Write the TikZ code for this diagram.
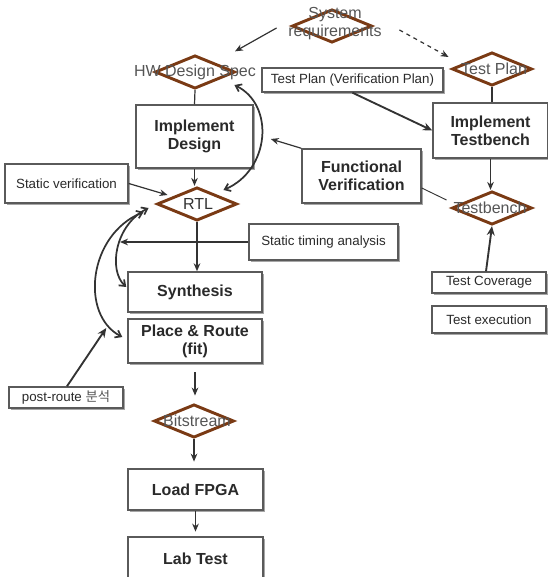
\documentclass[tikz,border=0pt]{standalone}
\usepackage{fontspec}
\setmainfont{Liberation Sans}
\newfontfamily\krfont{Noto Sans CJK KR}
\usetikzlibrary{shapes.geometric,arrows.meta,shadows,calc}
\definecolor{brownline}{HTML}{7A3A14}
\definecolor{boxline}{HTML}{5A5A5A}
\definecolor{txt}{HTML}{2A2A2A}
\definecolor{dtxt}{HTML}{555555}
\definecolor{ln}{HTML}{333333}
\tikzset{
  box/.style={draw=boxline, line width=1.1pt, fill=white,
    drop shadow={shadow xshift=1.5pt, shadow yshift=-1.5pt, opacity=0.35, fill=black},
    inner sep=0pt, align=center, text=txt},
  bbox/.style={box, font=\bfseries\fontsize{12}{13.5}\selectfont},
  sbox/.style={box, font=\fontsize{10}{12}\selectfont},
  dia/.style={diamond, draw=brownline, line width=2.2pt, minimum width=60pt,
    minimum height=25pt, inner sep=0pt},
  dtext/.style={text=dtxt, font=\fontsize{12}{13.5}\selectfont, inner sep=0pt, align=center},
  arr/.style={draw=ln, line width=0.9pt, -{Stealth[length=6pt,width=5pt]}},
  tarr/.style={draw=ln, line width=1.4pt, -{Stealth[length=7pt,width=6pt]}},
  carr/.style={draw=ln, line width=1.3pt, {Straight Barb[length=4pt,width=6pt]}-{Straight Barb[length=4pt,width=6pt]}},
  plain/.style={draw=ln, line width=0.9pt},
}
\begin{document}
\begin{tikzpicture}[x=0.75pt,y=-0.75pt]
\useasboundingbox (0,0) rectangle (548,577);
% diamonds
\node[dia] (sys) at (332,26) {};
\node[dtext] (systxt) at (335,24) {System\\requirements};
\node[dia] (hw) at (195,72) {};
\node[dtext] (hwtxt) at (195,72) {HW Design Spec};
\node[dia] (tp) at (492,69) {};
\node[dtext] (tptxt) at (494,69) {Test Plan};
\node[dia] (rtl) at (197,204) {};
\node[dtext, text=ln] (rtltxt) at (198,204) {RTL};
\node[dia] (tb) at (492,208) {};
\node[dtext] (tbtxt) at (490,208) {Testbench};
\node[dia] (bit) at (194,421) {};
\node[dtext] (bittxt) at (197,421) {Bitstream};
% boxes
\node[bbox, minimum width=87.75pt, minimum height=47.25pt] (impD) at (194.5,136.5) {Implement\\Design};
\node[bbox, minimum width=86.25pt, minimum height=41.25pt] (impT) at (490.5,130.5) {Implement\\Testbench};
\node[bbox, minimum width=89.25pt, minimum height=40.5pt] (funcV) at (361.5,176) {Functional\\Verification};
\node[sbox, minimum width=92.25pt, minimum height=29.25pt] (statV) at (66.5,183.5) {Static verification};
\node[sbox, minimum width=135.75pt, minimum height=18pt] (tplan) at (352.5,80) {Test Plan (Verification Plan)};
\node[sbox, minimum width=111.75pt, minimum height=27pt] (sta) at (323.5,242) {Static timing analysis};
\node[bbox, minimum width=100.5pt, minimum height=30pt] (syn) at (195,292) {Synthesis};
\node[bbox, minimum width=100.5pt, minimum height=33pt] (pr) at (195,341) {Place \& Route\\(fit)};
\node[sbox, minimum width=85.5pt, minimum height=15.75pt] (post) at (66,397.5) {post-route {\krfont\color{dtxt}분석}};
\node[sbox, minimum width=85.5pt, minimum height=15.75pt] (tcov) at (489,282.5) {Test Coverage};
\node[sbox, minimum width=85.5pt, minimum height=20.25pt] (texec) at (489,319.5) {Test execution};
\node[bbox, minimum width=101.25pt, minimum height=30.75pt] (load) at (195.5,489.5) {Load FPGA};
\node[bbox, minimum width=101.25pt, minimum height=32.25pt] (lab) at (195.5,558.5) {Lab Test};
\coordinate (stEnd) at (120,242);
% connectors
\draw[arr] ($(sys.west)+(-14,2)$) -- ($(hw.north)+(40,-2.5)$);
\draw[arr, dashed] ($(sys.east)+(26,4)$) -- ($(tp.west)+(-2,-12)$);
\draw[plain] (hw.south) -- (impD.north);
\draw[plain] (tp.south) -- (tp.south |- impT.north);
\draw[carr] ($(hw.east)+(-2,13)$) .. controls (275,105) and (270,170) .. ($(rtl.east)+(-15,-14)$);
\draw[arr] (impD.south) -- (impD.south |- rtl.north);
\draw[arr] (statV.east) -- ($(rtl.west)+(12,-9)$);
\draw[arr] (funcV.north west) -- ($(impD.east)+(17,2.5)$);
\draw[plain, line width=0.7pt] ($(funcV.east)+(0,12)$) -- ($(tb.west)+(-4,-8)$);
\draw[tarr] (tplan.south) -- (impT.west);
\draw[arr] (impT.south) -- (impT.south |- tb.north);
\draw[tarr] ($(tcov.north)+(-3,0)$) -- (tb.south);
\draw[arr] (rtl.south) -- (rtl.south |- syn.north);
\draw[arr] (sta.west) -- (stEnd);
\draw[carr] ($(rtl.west)+(-7,4)$) .. controls (115,225) and (108,270) .. ($(syn.west)+(-1,-5)$);
\draw[carr] ($(rtl.west)+(-12,8)$) .. controls (88,235) and (80,315) .. ($(pr.west)+(-5,-4)$);
\draw[tarr] ($(post.north)+(1,0)$) -- ($(pr.west)+(-21,-13)$);
\draw[arr, shorten <=6.5pt, shorten >=5.5pt] (pr.south) -- (pr.south |- bit.north);
\draw[arr, shorten >=5pt] (bit.south) -- (bit.south |- load.north);
\draw[arr, shorten >=3.5pt] (load.south) -- (lab.north);
\end{tikzpicture}
\end{document}
